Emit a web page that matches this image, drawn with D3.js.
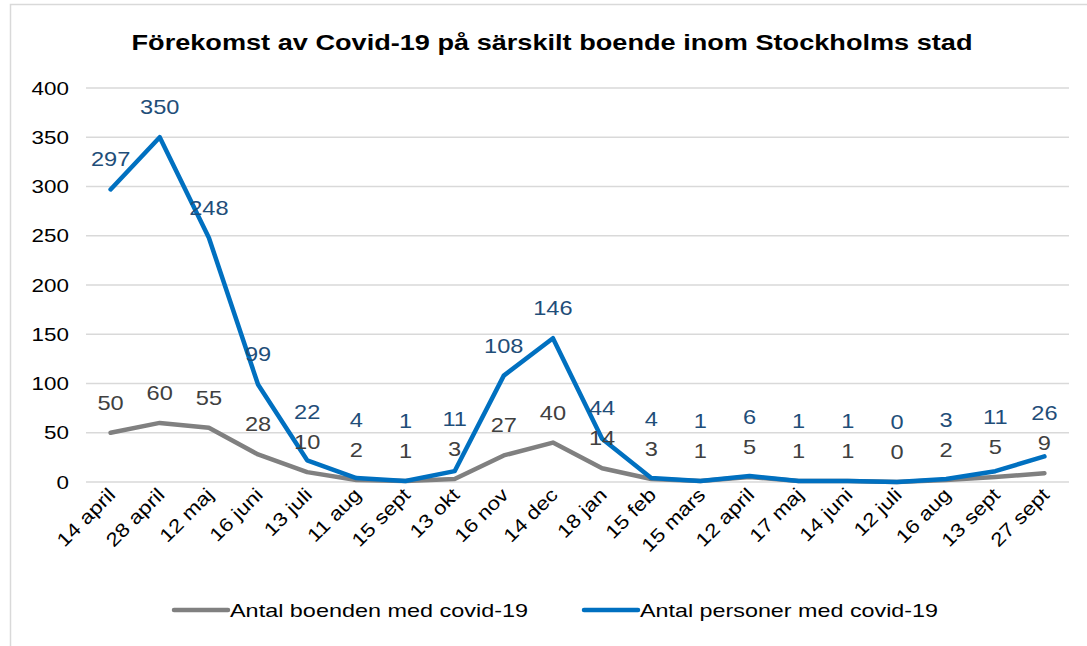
<!DOCTYPE html>
<html>
<head>
<meta charset="utf-8">
<script src="https://cdn.jsdelivr.net/npm/d3@7"></script>
<style>
    body { margin: 0; background: #fff; }
    svg text { font-family: "Liberation Sans", Arial, sans-serif; }
</style>
</head>
<body>
<div id="chart"></div>
<script>
const categories = [
    "14 april", "28 april", "12 maj", "16 juni", "13 juli", "11 aug", "15 sept", "13 okt",
    "16 nov", "14 dec", "18 jan", "15 feb", "15 mars", "12 april", "17 maj", "14 juni",
    "12 juli", "16 aug", "13 sept", "27 sept",
];
const boenden = [50, 60, 55, 28, 10, 2, 1, 3, 27, 40, 14, 3, 1, 5, 1, 1, 0, 2, 5, 9];
const personer = [297, 350, 248, 99, 22, 4, 1, 11, 108, 146, 44, 4, 1, 6, 1, 1, 0, 3, 11, 26];
const yTicks = [0, 50, 100, 150, 200, 250, 300, 350, 400];

const title = "Förekomst av Covid-19 på särskilt boende inom Stockholms stad";
const seriesNames = ["Antal boenden med covid-19", "Antal personer med covid-19"];

const width = 1087;
const height = 646;
// the source picture is a little wider than tall, text is stretched to match
const stretch = 1.18;

const svg = d3.select("#chart").append("svg").attr("width", width).attr("height", height);

// chart frame
svg.append("rect")
    .attr("x", 10.5)
    .attr("y", 4.5)
    .attr("width", 1100)
    .attr("height", 700)
    .attr("fill", "none")
    .attr("stroke", "#d9d9d9")
    .attr("stroke-width", 1.5);

const x = d3.scalePoint().domain(categories).range([86, 1069]).padding(0.5);
const y = d3.scaleLinear().domain([0, 400]).range([482, 88]);

// gridlines
svg.append("g")
    .selectAll("line")
    .data(yTicks)
    .join("line")
    .attr("x1", 86)
    .attr("x2", 1069)
    .attr("y1", d => y(d))
    .attr("y2", d => y(d))
    .attr("stroke", "#d9d9d9")
    .attr("stroke-width", 1.5);

// y axis labels
svg.append("g")
    .selectAll("text")
    .data(yTicks)
    .join("text")
    .attr("transform", d => `translate(69,${y(d)}) scale(${stretch},1)`)
    .attr("dy", "0.35em")
    .attr("text-anchor", "end")
    .attr("font-size", 19)
    .attr("fill", "#000")
    .text(d => d);

// x axis labels, rotated
svg.append("g")
    .selectAll("text")
    .data(categories)
    .join("text")
    .attr("text-anchor", "end")
    .attr("font-size", 19)
    .attr("fill", "#000")
    .attr("transform", d => `translate(${x(d) + 6},${496}) rotate(-45) scale(${stretch},1)`)
    .text(d => d);

const line = d3.line()
    .x((d, i) => x(categories[i]))
    .y(d => y(d));

svg.append("path")
    .datum(boenden)
    .attr("d", line)
    .attr("fill", "none")
    .attr("stroke", "#808080")
    .attr("stroke-width", 4.5)
    .attr("stroke-linejoin", "round")
    .attr("stroke-linecap", "round");

svg.append("path")
    .datum(personer)
    .attr("d", line)
    .attr("fill", "none")
    .attr("stroke", "#0070c0")
    .attr("stroke-width", 4.5)
    .attr("stroke-linejoin", "round")
    .attr("stroke-linecap", "round");

// data labels: gray above its point, blue above its point but kept clear of the gray label
const grayLabelY = boenden.map(v => y(v) - 30);
const blueLabelY = personer.map((v, i) => Math.min(y(v) - 30, grayLabelY[i] - 30));

svg.append("g")
    .selectAll("text")
    .data(boenden)
    .join("text")
    .attr("transform", (d, i) => `translate(${x(categories[i])},${grayLabelY[i]}) scale(${stretch},1)`)
    .attr("dy", "0.35em")
    .attr("text-anchor", "middle")
    .attr("font-size", 20)
    .attr("fill", "#404040")
    .text(d => d);

svg.append("g")
    .selectAll("text")
    .data(personer)
    .join("text")
    .attr("transform", (d, i) => `translate(${x(categories[i])},${blueLabelY[i]}) scale(${stretch},1)`)
    .attr("dy", "0.35em")
    .attr("text-anchor", "middle")
    .attr("font-size", 20)
    .attr("fill", "#1f4e79")
    .text(d => d);

// title
svg.append("text")
    .attr("x", 552)
    .attr("y", 42)
    .attr("dy", "0.35em")
    .attr("text-anchor", "middle")
    .attr("font-size", 22)
    .attr("font-weight", "bold")
    .attr("fill", "#000")
    .attr("textLength", 841)
    .attr("lengthAdjust", "spacingAndGlyphs")
    .text(title);

// legend
const legend = [
    { name: seriesNames[0], color: "#808080", x: 174 },
    { name: seriesNames[1], color: "#0070c0", x: 584 },
];
const lg = svg.append("g").selectAll("g").data(legend).join("g")
    .attr("transform", d => `translate(${d.x},610)`);
lg.append("line")
    .attr("x1", 0)
    .attr("x2", 54)
    .attr("stroke", d => d.color)
    .attr("stroke-width", 4.5)
    .attr("stroke-linecap", "round");
lg.append("text")
    .attr("x", 56)
    .attr("dy", "0.35em")
    .attr("font-size", 19)
    .attr("fill", "#000")
    .attr("textLength", 298)
    .attr("lengthAdjust", "spacingAndGlyphs")
    .text(d => d.name);
</script>
</body>
</html>
